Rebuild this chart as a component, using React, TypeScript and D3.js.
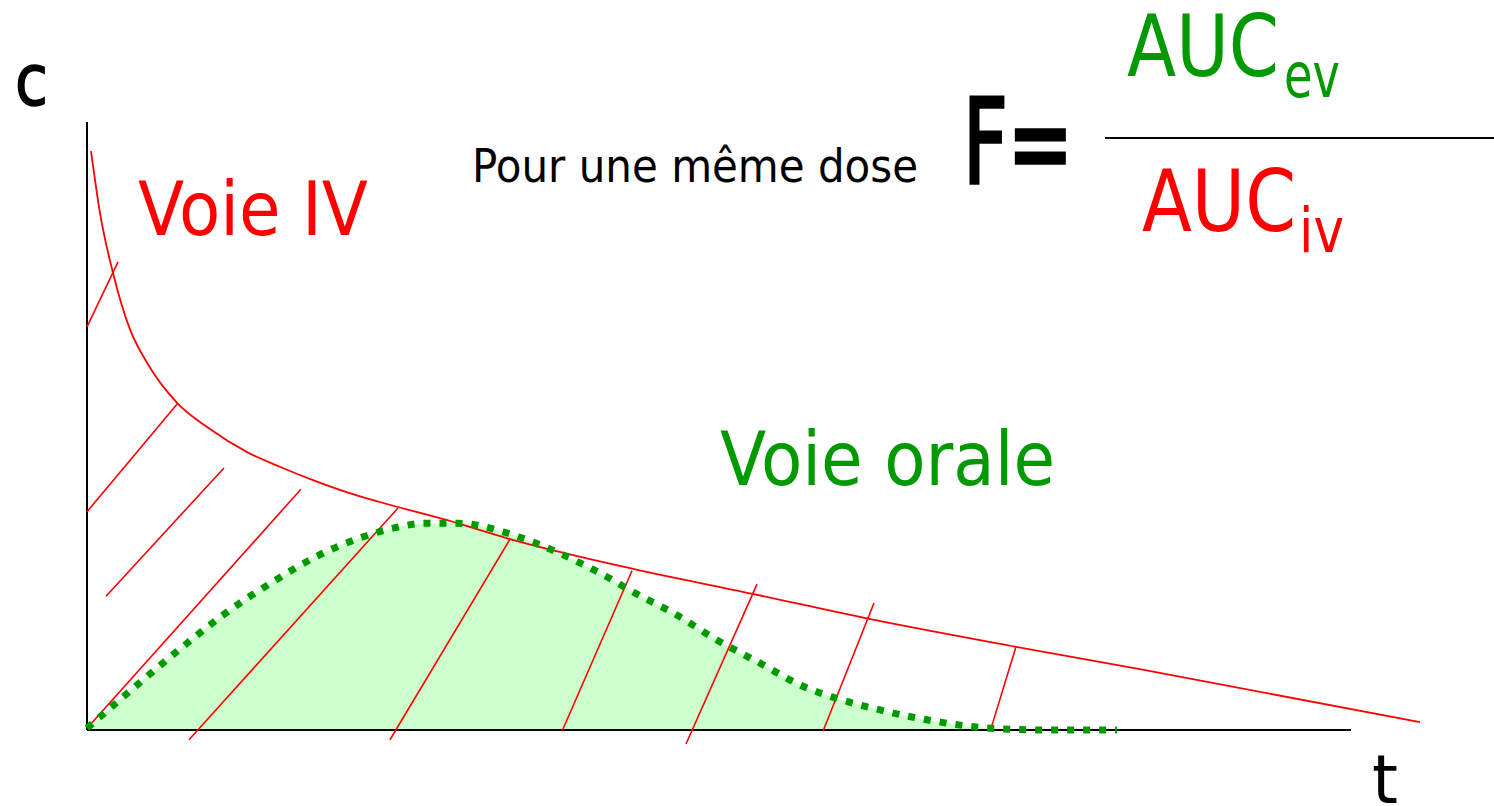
import React from "react";
import * as d3 from "d3";

// Schematic data: time (h) vs concentration (arbitrary units)
const ivTime = [0.076, 0.247, 0.49, 0.82, 1.14, 1.71, 2.3, 3.04, 3.66, 4.29, 4.94, 5.56, 6.84, 8.03, 10.37, 12.64, 14.83, 17.62, 19.99, 25.31];
const ivConc = [95.2, 85.0, 75.3, 65.8, 60.4, 53.8, 49.7, 45.7, 43.3, 41.1, 39.1, 37.5, 34.5, 31.4, 26.5, 22.4, 18.3, 13.7, 10.0, 1.3];

const oralTime = [0, 0.95, 1.86, 2.58, 3.61, 4.37, 5.22, 5.81, 6.42, 7.04, 7.9, 8.47, 9.04, 9.87, 10.37, 11.2, 11.96, 12.78, 13.54, 14.16, 15.06, 16.2, 17.14, 18.23, 19.56];
const oralConc = [0.3, 7.4, 14.0, 18.9, 24.8, 28.6, 31.7, 33.2, 34.0, 34.0, 32.6, 30.9, 28.8, 25.2, 22.7, 18.9, 14.8, 11.0, 7.4, 5.4, 3.3, 1.3, 0.3, 0, 0];

// Hatch segments
const hatchStartT = [0, 0, 0.361, 0, 1.937, 5.753, 9.019, 11.373, 13.975, 17.184];
const hatchStartC = [66.3, 35.9, 22.0, 0.3, -1.6, -1.6, -0.2, -2.3, -0.2, 0.8];
const hatchEndT = [0.589, 1.728, 2.601, 4.063, 5.905, 8.032, 10.348, 12.722, 14.943, 17.639];
const hatchEndC = [77.0, 53.8, 43.1, 39.6, 36.5, 31.4, 26.2, 24.0, 20.9, 13.7];

const RED = "#ff0000";
const GREEN = "#009900";
const FONT = "'DejaVu Sans', Verdana, sans-serif";

export default function App() {
  const W = 1494, H = 806;
  const x = d3.scaleLinear().domain([0, 24]).range([87, 1351]);
  const y = d3.scaleLinear().domain([0, 100]).range([730, 122]);

  const iv = ivTime.map((t, i) => [t, ivConc[i]] as [number, number]);
  const oral = oralTime.map((t, i) => [t, oralConc[i]] as [number, number]);

  const line = d3.line<[number, number]>().x(d => x(d[0])).y(d => y(d[1])).curve(d3.curveMonotoneX);
  const area = d3.area<[number, number]>().x(d => x(d[0])).y0(y(0)).y1(d => y(d[1])).curve(d3.curveMonotoneX);

  return (
    <svg width={W} height={H} style={{ position: "absolute", left: 0, top: 0, background: "#fff" }}>
      <path d={area(oral) || ""} fill="#ccffcc" stroke="none" />
      <line x1={x(0)} y1={y(0)} x2={x(0)} y2={y(100)} stroke="#000" strokeWidth={2} />
      <line x1={x(0)} y1={y(0)} x2={x(24)} y2={y(0)} stroke="#000" strokeWidth={2} />
      {hatchStartT.map((t, i) => (
        <line key={i} x1={x(t)} y1={y(hatchStartC[i])} x2={x(hatchEndT[i])} y2={y(hatchEndC[i])} stroke={RED} strokeWidth={1.6} />
      ))}
      <path d={line(iv) || ""} fill="none" stroke={RED} strokeWidth={1.8} />
      <path d={line(oral) || ""} fill="none" stroke={GREEN} strokeWidth={7} strokeDasharray="7 9" />

      <g fontFamily={FONT}>
        <text x={15} y={105} fontSize={72} fill="#000" stroke="#000" strokeWidth={1.5} textLength={33} lengthAdjust="spacingAndGlyphs">c</text>
        <text x={1372} y={803} fontSize={68} fill="#000" textLength={26} lengthAdjust="spacingAndGlyphs">t</text>
        <text x={138} y={235} fontSize={74} fill={RED} textLength={230} lengthAdjust="spacingAndGlyphs">Voie IV</text>
        <text x={720} y={485} fontSize={74} fill={GREEN} textLength={335} lengthAdjust="spacingAndGlyphs">Voie orale</text>
        <text x={472} y={182} fontSize={46} fill="#000" textLength={446} lengthAdjust="spacingAndGlyphs">Pour une même dose</text>
        <text x={963} y={183} fontSize={117} fill="#000" stroke="#000" strokeWidth={3.5} textLength={110} lengthAdjust="spacingAndGlyphs">F=</text>
        <text x={1127} y={76} fontSize={86} fill={GREEN} textLength={152} lengthAdjust="spacingAndGlyphs">AUC</text>
        <text x={1284} y={97} fontSize={62} fill={GREEN} textLength={56} lengthAdjust="spacingAndGlyphs">ev</text>
        <text x={1142} y={231} fontSize={86} fill={RED} textLength={154} lengthAdjust="spacingAndGlyphs">AUC</text>
        <text x={1299} y={252} fontSize={62} fill={RED} textLength={45} lengthAdjust="spacingAndGlyphs">iv</text>
      </g>
      <line x1={1105} y1={138} x2={1494} y2={138} stroke="#000" strokeWidth={2} />
    </svg>
  );
}
